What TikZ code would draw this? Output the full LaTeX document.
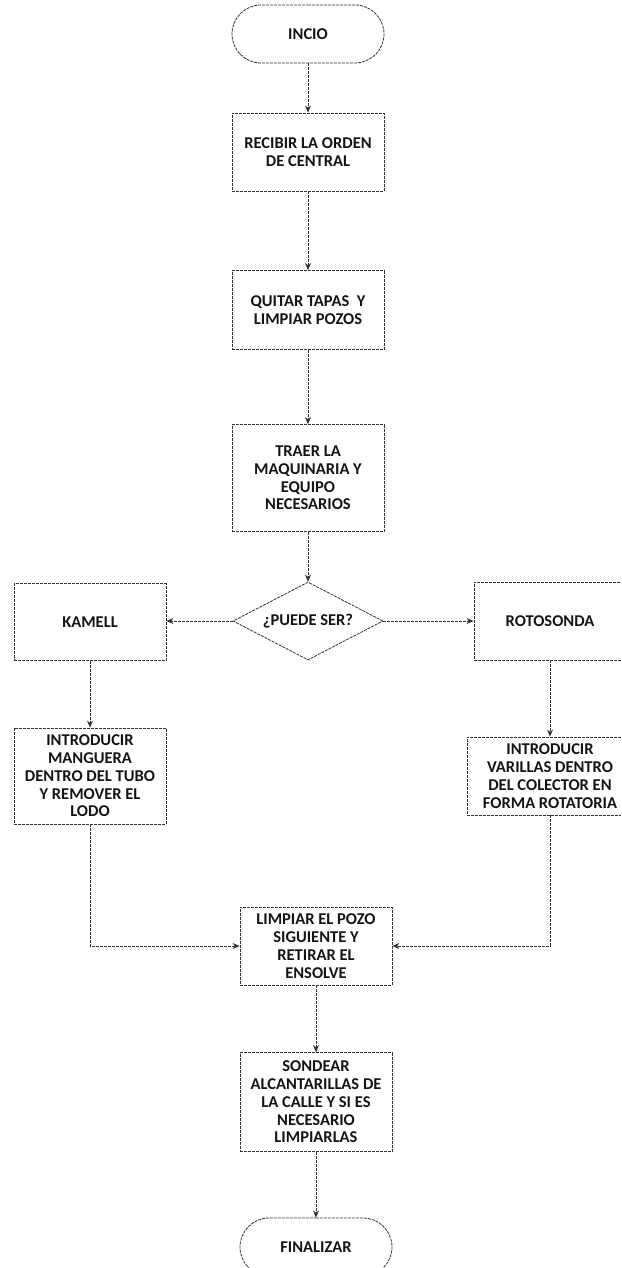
\documentclass[tikz,border=0pt]{standalone}
\usepackage{fontspec}
\setmainfont{Carlito}
\definecolor{scanline}{RGB}{50,50,50}
\definecolor{scantext}{RGB}{20,20,20}
\usetikzlibrary{positioning}
\usetikzlibrary{shapes.geometric}
\usetikzlibrary{shapes.misc}
\usetikzlibrary{arrows.meta}

\begin{document}
\begin{tikzpicture}[x=1pt, y=-1pt,
  box/.style={draw=scanline, dash pattern=on 3pt off 1pt, line width=0.8pt, text=scantext, align=center, inner sep=0pt, minimum width=152pt, font=\fontsize{16.5}{17.8}\selectfont\bfseries},
  term/.style={box, rounded rectangle, minimum height=58pt},
  decision/.style={box, diamond, aspect=1.92, minimum width=150pt, minimum height=78pt},
  flow/.style={draw=scanline, dash pattern=on 3pt off 1pt, line width=0.8pt, -{Stealth[length=7pt,width=6pt]}}]

  \useasboundingbox (0,0) rectangle (621,1268);
  \clip (0,0) rectangle (621,1268);

  % main column
  \node [term] (inicio) at (308,34) {INCIO};
  \node [box, minimum height=78pt] (recibir) at (308,152) {RECIBIR LA ORDEN\\DE CENTRAL};
  \node [box, minimum height=79pt] (quitar) at (308,310) {QUITAR TAPAS~ Y\\LIMPIAR POZOS};
  \node [box, minimum height=107pt] (traer) at (308,478) {TRAER LA\\MAQUINARIA Y\\EQUIPO\\NECESARIOS};
  \node [decision] (puede) at (308,621) {¿PUEDE SER?};

  % the two ways
  \node [box, minimum height=77pt] (kamell) at (90,622) {KAMELL};
  \node [box, minimum height=78pt] (roto) at (550,621) {ROTOSONDA};
  \node [box, minimum height=96pt] (manguera) at (90,776) {INTRODUCIR\\MANGUERA\\DENTRO DEL TUBO\\Y REMOVER EL\\LODO};
  \node [box, minimum width=166pt, minimum height=78pt] (varillas) at (550,776) {INTRODUCIR\\VARILLAS DENTRO\\DEL COLECTOR EN\\FORMA ROTATORIA};

  % end of the flow
  \node [box, minimum height=78pt] (limpiar) at (316,946) {LIMPIAR EL POZO\\SIGUIENTE Y\\RETIRAR EL\\ENSOLVE};
  \node [box, minimum height=99pt] (sondear) at (316,1102) {SONDEAR\\ALCANTARILLAS DE\\LA CALLE Y SI ES\\NECESARIO\\LIMPIARLAS};
  \node [term] (final) at (316,1247) {FINALIZAR};

  \foreach \a/\b in {inicio/recibir, recibir/quitar, quitar/traer, traer/puede, kamell/manguera, roto/varillas, limpiar/sondear, sondear/final}
    \draw [flow] (\a.south) -- (\b.north);

  \draw [flow] (puede.west) -- (kamell.east |- puede.west);
  \draw [flow] (puede.east) -- (roto.west);

  % back to the middle
  \draw [flow] (manguera.south) |- (limpiar.west);
  \draw [flow] (varillas.south) |- (limpiar.east);

\end{tikzpicture}
\end{document}
